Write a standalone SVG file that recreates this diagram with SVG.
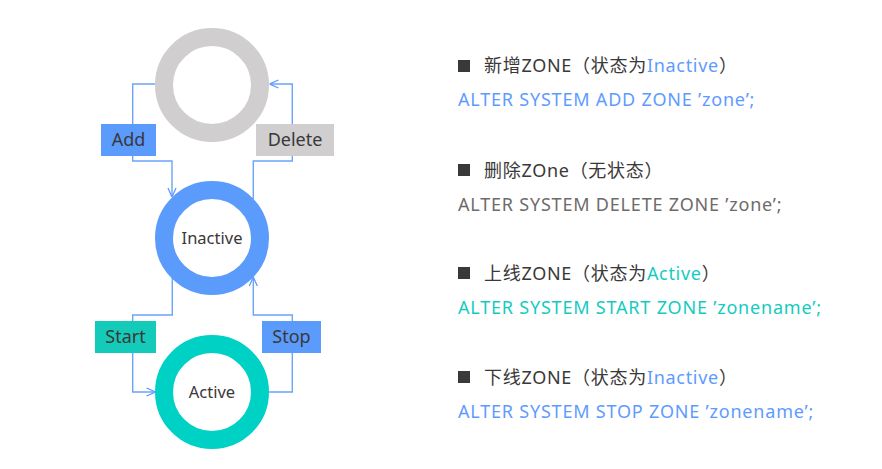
<svg xmlns="http://www.w3.org/2000/svg" width="882" height="469" viewBox="0 0 882 469">
<defs>
<style>
.ring{fill:none;stroke-width:18}
.lbl{font-family:"Noto Sans","Open Sans","Noto Sans CJK SC",sans-serif;font-size:18px;fill:#3a3838;text-anchor:middle}
.st{font-family:"Noto Sans","Open Sans","Noto Sans CJK SC",sans-serif;font-size:16.5px;fill:#3a3838;text-anchor:middle}
.conn{fill:none;stroke:#6aa4fb;stroke-width:1.4;marker-end:url(#arr)}
.plain{fill:none;stroke:#6aa4fb;stroke-width:1.4}
.t{font-family:"Noto Sans","Noto Sans CJK SC",sans-serif;font-size:18px;letter-spacing:0.8px}
.h{fill:#3a3838;letter-spacing:0.7px}
.blue{fill:#5e9bff}
.teal{fill:#14cbc0}
.gray{fill:#6e6b6b}
</style>
<marker id="arr" viewBox="0 0 10 10" refX="10" refY="5" markerWidth="10" markerHeight="10" markerUnits="userSpaceOnUse" orient="auto">
<path d="M1,1 L10,5 L1,9" fill="none" stroke="#5e9bff" stroke-width="1.3"/>
</marker>
</defs>
<rect width="882" height="469" fill="#ffffff"/>
<g id="connectors">
<path class="plain" d="M156,84 H132.7 V124"/>
<path class="conn" d="M132.7,156 V161 H172 V197"/>
<path class="plain" d="M253.3,199 V161 H292.3 V156"/>
<path class="conn" d="M292.3,124 V84 H269.5"/>
<path class="plain" d="M172.3,278 V315 H132.7 V321"/>
<path class="conn" d="M132.7,353 V392 H155.5"/>
<path class="plain" d="M269,392 H292.3 V353"/>
<path class="conn" d="M292.3,321 V315 H253.3 V277"/>
</g>
<g id="node-none">
<circle class="ring" cx="212" cy="85" r="48" stroke="#d0cece"/>
</g>
<g id="node-inactive">
<circle class="ring" cx="212" cy="238" r="48" stroke="#5b9bfc"/>
<text class="st" x="212" y="244">Inactive</text>
</g>
<g id="node-active">
<circle class="ring" cx="212" cy="392" r="48" stroke="#00d1c5"/>
<text class="st" x="212" y="398">Active</text>
</g>
<g id="label-add">
<rect x="101" y="124" width="55" height="32" fill="#5b9bfc"/>
<text class="lbl" x="128.5" y="146">Add</text>
</g>
<g id="label-delete">
<rect x="256" y="124" width="78" height="32" fill="#d0cece"/>
<text class="lbl" x="295" y="146">Delete</text>
</g>
<g id="label-start">
<rect x="95" y="321" width="61" height="32" fill="#14cbb9"/>
<text class="lbl" x="125.5" y="343">Start</text>
</g>
<g id="label-stop">
<rect x="262" y="321" width="59" height="32" fill="#5b9bfc"/>
<text class="lbl" x="291.5" y="343">Stop</text>
</g>
<g id="text-panel">
<rect x="458" y="60" width="12" height="12" fill="#3a3838"/>
<text class="t h" x="484" y="72">新增ZONE（状态为<tspan class="blue">Inactive</tspan>）</text>
<text class="t blue" x="458" y="106">ALTER SYSTEM ADD ZONE ’zone’;</text>
<rect x="458" y="164" width="12" height="12" fill="#3a3838"/>
<text class="t h" x="484" y="177">删除ZOne（无状态）</text>
<text class="t gray" x="458" y="211">ALTER SYSTEM DELETE ZONE ’zone’;</text>
<rect x="458" y="267" width="12" height="12" fill="#3a3838"/>
<text class="t h" x="484" y="280">上线ZONE（状态为<tspan class="teal">Active</tspan>）</text>
<text class="t teal" x="458" y="314">ALTER SYSTEM START ZONE ’zonename’;</text>
<rect x="458" y="371" width="12" height="12" fill="#3a3838"/>
<text class="t h" x="484" y="384">下线ZONE（状态为<tspan class="blue">Inactive</tspan>）</text>
<text class="t blue" x="458" y="418">ALTER SYSTEM STOP ZONE ’zonename’;</text>
</g>
</svg>
